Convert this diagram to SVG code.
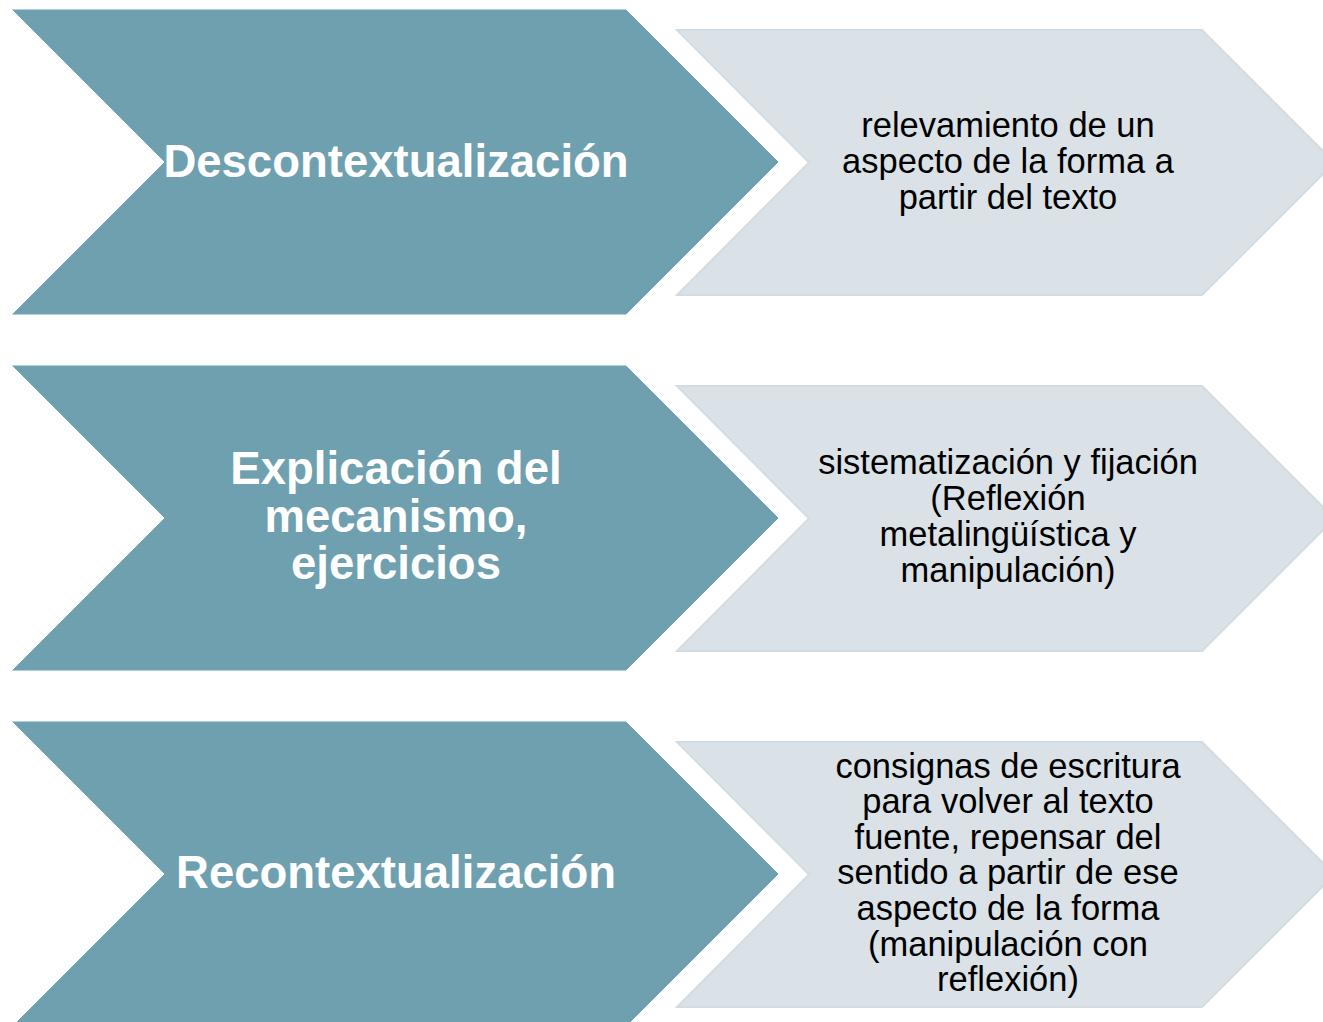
<svg xmlns="http://www.w3.org/2000/svg" width="1323" height="1022" viewBox="0 0 1323 1022">
<defs>
<style>
.dark{fill:#6fa0b0;stroke:#ffffff;stroke-width:1}
.light{fill:#dae2e7;stroke:#d2dce2;stroke-width:2}
.t1{font-family:"Liberation Sans",Arial,sans-serif;font-weight:bold;font-size:45.5px;fill:#ffffff;text-anchor:middle}
.t2{font-family:"Liberation Sans",Arial,sans-serif;font-size:34.5px;fill:#000000;text-anchor:middle}
</style>
</defs>
<rect width="1323" height="1022" fill="#ffffff"/>
<g id="connectors"></g>
<g id="step1">
<polygon class="dark" points="11,9 626,9 779,162 626,315 11,315 164,162"/>
<text class="t1" x="396" y="177">Descontextualización</text>
</g>
<g id="detail1">
<polygon class="light" points="677,30 1202,30 1334.5,162.5 1202,295 677,295 809,162.5"/>
<text class="t2" x="1008" y="137">relevamiento de un</text>
<text class="t2" x="1008" y="173">aspecto de la forma a</text>
<text class="t2" x="1008" y="209">partir del texto</text>
</g>
<g id="step2">
<polygon class="dark" points="11,365 626,365 779,518 626,671 11,671 164,518"/>
<text class="t1" x="396" y="484">Explicación del</text>
<text class="t1" x="396" y="532">mecanismo,</text>
<text class="t1" x="396" y="579">ejercicios</text>
</g>
<g id="detail2">
<polygon class="light" points="677,386 1202,386 1334.5,518.5 1202,651 677,651 809,518.5"/>
<text class="t2" x="1008" y="474">sistematización y fijación</text>
<text class="t2" x="1008" y="510">(Reflexión</text>
<text class="t2" x="1008" y="546">metalingüística y</text>
<text class="t2" x="1008" y="582">manipulación)</text>
</g>
<g id="step3">
<polygon class="dark" points="11,721 626,721 779,874 626,1027 11,1027 164,874"/>
<text class="t1" x="396" y="888">Recontextualización</text>
</g>
<g id="detail3">
<polygon class="light" points="677,742 1202,742 1334.5,874.5 1202,1007 677,1007 809,874.5"/>
<text class="t2" x="1008" y="778">consignas de escritura</text>
<text class="t2" x="1008" y="813">para volver al texto</text>
<text class="t2" x="1008" y="849">fuente, repensar del</text>
<text class="t2" x="1008" y="884">sentido a partir de ese</text>
<text class="t2" x="1008" y="920">aspecto de la forma</text>
<text class="t2" x="1008" y="956">(manipulación con</text>
<text class="t2" x="1008" y="991">reflexión)</text>
</g>
</svg>
